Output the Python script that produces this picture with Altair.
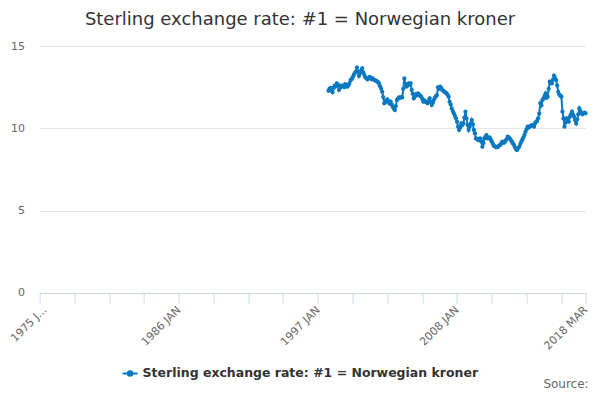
import altair as alt
import pandas as pd

SERIES = 'Sterling exchange rate: #1 = Norwegian kroner'
BLUE = '#0a78c1'

# monthly rates, one list per year, starting Nov 1997
first_month = '1997-11-01'
rates_1997 = [12.28, 12.40]
rates_1998 = [12.45, 12.30, 12.19, 12.45, 12.60, 12.55, 12.73, 12.65, 12.33, 12.45, 12.60, 12.55]
rates_1999 = [12.60, 12.50, 12.69, 12.60, 12.53, 12.62, 12.75, 12.93, 12.98, 13.10, 13.24, 13.35]
rates_2000 = [13.45, 13.70, 13.45, 13.18, 13.35, 13.50, 13.64, 13.40, 13.24, 13.10, 13.05, 12.97]
rates_2001 = [13.05, 13.13, 13.08, 12.98, 13.03, 12.95, 12.92, 12.89, 12.85, 12.80, 12.73, 12.55]
rates_2002 = [12.40, 12.22, 11.90, 11.52, 11.60, 11.70, 11.76, 11.60, 11.50, 11.62, 11.45, 11.31]
rates_2003 = [11.20, 11.11, 11.35, 11.72, 11.80, 11.88, 11.85, 11.90, 11.88, 12.40, 13.03, 12.70]
rates_2004 = [12.53, 12.60, 12.73, 12.65, 12.73, 12.33, 12.10, 11.82, 11.95, 12.08, 12.00, 12.12]
rates_2005 = [12.05, 11.98, 11.92, 11.80, 11.62, 11.70, 11.62, 11.58, 11.52, 11.65, 11.82, 11.60]
rates_2006 = [11.41, 11.55, 11.72, 11.85, 11.95, 12.02, 12.49, 12.40, 12.53, 12.45, 12.33, 12.28]
rates_2007 = [12.22, 12.18, 12.12, 12.05, 11.92, 11.62, 11.45, 11.21, 11.05, 10.91, 10.75, 10.61]
rates_2008 = [10.40, 10.10, 9.90, 10.05, 10.30, 10.20, 10.30, 10.65, 11.01, 10.60, 10.20, 9.90]
rates_2009 = [10.10, 10.30, 10.50, 10.25, 9.90, 9.70, 9.39, 9.35, 9.29, 9.35, 9.39, 9.20]
rates_2010 = [8.88, 9.10, 9.39, 9.50, 9.59, 9.39, 9.42, 9.45, 9.30, 9.19, 9.05, 8.93]
rates_2011 = [8.90, 8.85, 8.86, 8.88, 8.95, 8.99, 9.08, 9.19, 9.15, 9.13, 9.25, 9.33]
rates_2012 = [9.49, 9.45, 9.39, 9.30, 9.19, 9.08, 8.99, 8.85, 8.72, 8.68, 8.80, 8.88]
rates_2013 = [9.05, 9.19, 9.32, 9.45, 9.60, 9.79, 9.95, 10.10, 10.05, 10.10, 10.15, 10.20]
rates_2014 = [10.20, 10.10, 10.30, 10.40, 10.45, 10.61, 10.90, 11.52, 11.40, 11.72, 11.80, 11.95]
rates_2015 = [12.12, 11.85, 11.92, 12.40, 12.83, 12.75, 12.73, 12.95, 13.20, 13.05, 12.93, 12.60]
rates_2016 = [12.22, 12.05, 11.98, 11.92, 11.01, 10.60, 10.10, 10.35, 10.61, 10.48, 10.40, 10.70]
rates_2017 = [10.85, 11.01, 10.85, 10.71, 10.50, 10.30, 10.55, 10.85, 11.21, 11.05, 10.91, 10.85]
rates_2018 = [10.91, 10.95, 10.91]

rates = (rates_1997 + rates_1998 + rates_1999 + rates_2000 + rates_2001
         + rates_2002 + rates_2003 + rates_2004 + rates_2005 + rates_2006
         + rates_2007 + rates_2008 + rates_2009 + rates_2010 + rates_2011
         + rates_2012 + rates_2013 + rates_2014 + rates_2015 + rates_2016
         + rates_2017 + rates_2018)

# x axis ticks every 33 months, labels on a few of them
tick_months = ['1975-01', '1977-10', '1980-07', '1983-04', '1986-01', '1988-10',
               '1991-07', '1994-04', '1997-01', '1999-10', '2002-07', '2005-04',
               '2008-01', '2010-10', '2013-07', '2016-04', '2018-03']
label_months = ['1986-01', '1997-01', '2008-01', '2018-03']
y_ticks = [0, 5, 10, 15]


def ms(month):
    return int(pd.Timestamp(month + '-01').timestamp() * 1000)


months = pd.date_range(first_month, periods=len(rates), freq='MS')
df = pd.DataFrame({
    'month': months.strftime('%Y-%m-%d'),
    'rate': rates,
    'series': SERIES,
})

first_test = "utcFormat(datum.value, '%Y-%m') == '1975-01'"
label_list = "['" + "','".join(label_months) + "']"
label_expr = (
    first_test + " ? '1975 J...' : "
    "(indexof(" + label_list + ", utcFormat(datum.value, '%Y-%m')) < 0 ? '' : "
    "upper(utcFormat(datum.value, '%Y %b')))"
)

# legend symbol: short line with a dot in the middle
line_dot = ('M-1,0H1M-0.3,0A0.3,0.3 0 1,1 0.3,0A0.3,0.3 0 1,1 -0.3,0Z')

line = alt.Chart(df).mark_line(
    strokeWidth=2,
    point=alt.OverlayMarkDef(filled=True, size=18, color=BLUE),
).encode(
    x=alt.X('month:T', title=None,
            scale=alt.Scale(type='utc', domain=[ms('1975-01'), ms('2018-03')]),
            axis=alt.Axis(values=[ms(m) for m in tick_months], labelExpr=label_expr,
                          labelAngle=-45, labelAlign='right', labelBaseline='middle',
                          labelOverlap=False, labelBound=False, labelPadding=5,
                          labelOffset={'condition': {'test': first_test, 'value': 5},
                                       'value': 0},
                          labelFontSize=11, labelColor='#666666',
                          domainColor='#ccd6eb', tickColor='#ccd6eb', tickSize=10,
                          grid=False)),
    y=alt.Y('rate:Q', title=None,
            scale=alt.Scale(domain=[0, 15], nice=False, zero=True),
            axis=alt.Axis(values=y_ticks, domain=False, ticks=False, labelPadding=15,
                          labelFontSize=11, labelColor='#666666',
                          gridColor='#e6e6e6')),
    color=alt.Color('series:N', title=None,
                    scale=alt.Scale(domain=[SERIES], range=[BLUE]),
                    legend=alt.Legend(orient='none', legendX=82, legendY=319,
                                      symbolType=line_dot, symbolStrokeWidth=2,
                                      symbolFillColor=BLUE, symbolStrokeColor=BLUE,
                                      symbolSize=225, labelFontSize=12.5, labelLimit=0,
                                      labelFontWeight='bold', labelColor='#333333')),
)

title = alt.Chart(pd.DataFrame({'t': [SERIES]})).mark_text(
    align='center', baseline='alphabetic', fontSize=18, color='#333333'
).encode(text='t:N', x=alt.value(260.4), y=alt.value(-21))

source = alt.Chart(pd.DataFrame({'t': ['Source:']})).mark_text(
    align='right', baseline='alphabetic', fontSize=12, color='#666666'
).encode(text='t:N', x=alt.value(549), y=alt.value(342))

chart = alt.layer(line, title, source).properties(
    width=546,
    height=247,
    autosize=alt.AutoSizeParams(type='none'),
    padding={'left': 31.6, 'top': 38, 'right': 6, 'bottom': 99},
).configure(
    font='DejaVu Sans',
).configure_view(
    stroke=None,
)

chart.save('out.html', embed_options={'renderer': 'svg', 'actions': False})
